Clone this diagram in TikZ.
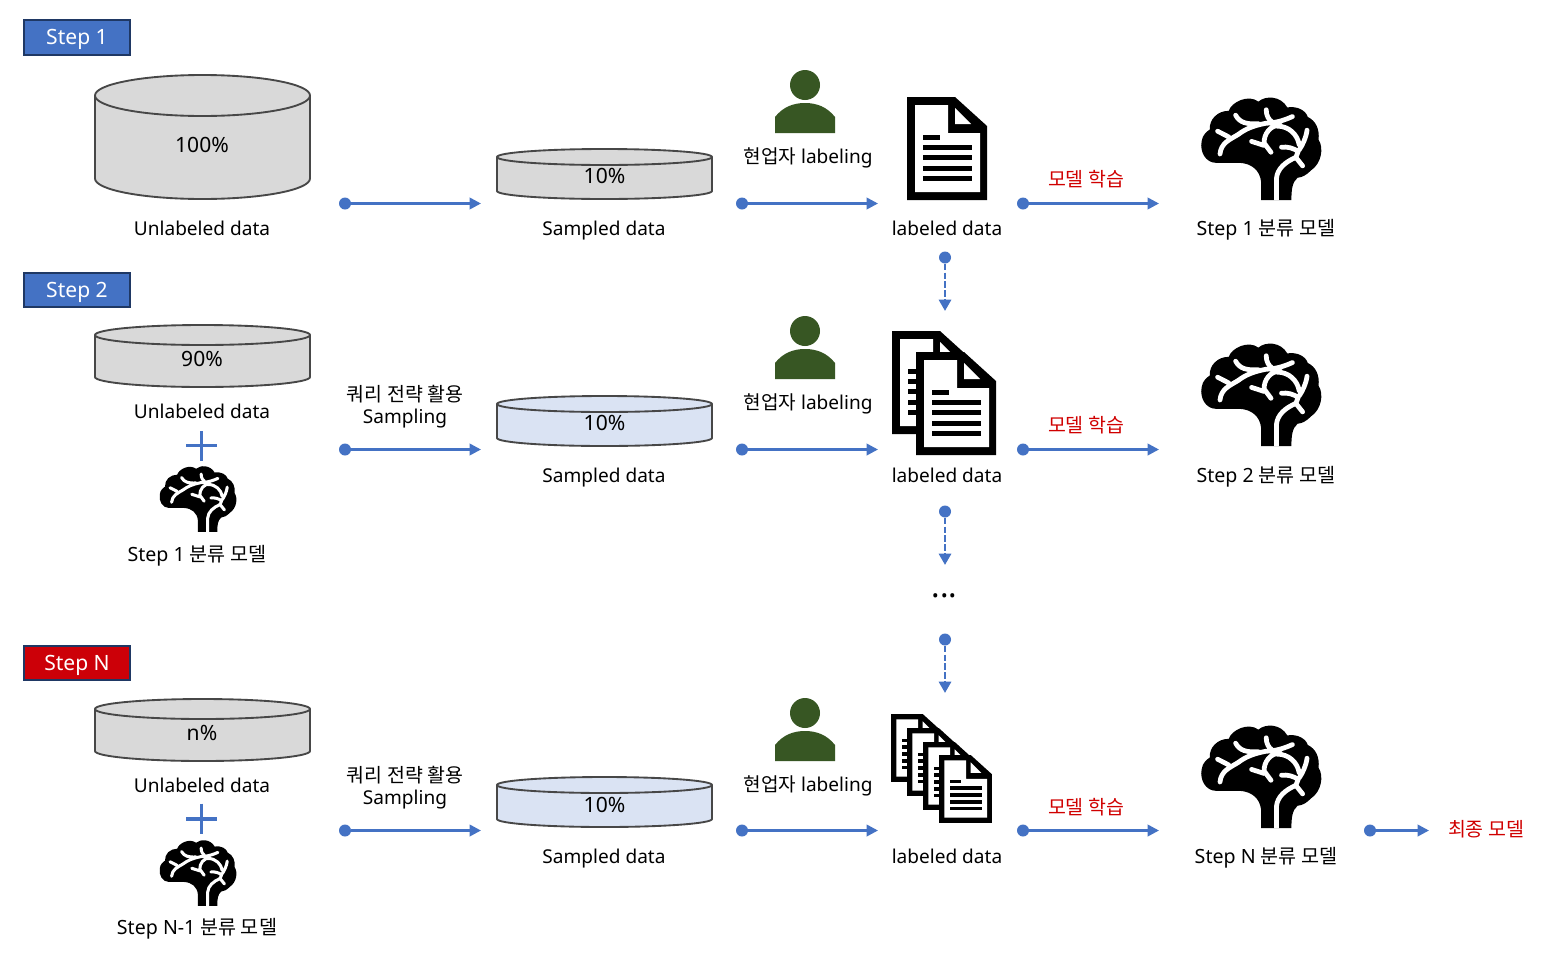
\documentclass[tikz,border=0pt]{standalone}
\usepackage{fontspec}
\setmainfont{Noto Sans}
\newfontfamily\kr{Noto Sans CJK KR}
\usetikzlibrary{arrows.meta}
\definecolor{flowblue}{HTML}{4472C4}
\definecolor{navyb}{HTML}{1F3864}
\definecolor{persong}{HTML}{375623}
\definecolor{redc}{HTML}{CC0008}
\definecolor{redt}{HTML}{D00000}
\definecolor{cylgrey}{HTML}{D9D9D9}
\definecolor{cylblue}{HTML}{DAE3F3}
\newcommand\lblfont{\fontsize{14.3}{17}\selectfont}
\newcommand\krfont{\fontsize{14.6}{17}\selectfont\kr}
\tikzset{
  x=0.75pt,y=-0.75pt,
  lbl/.style={font=\lblfont,text=black,inner sep=0pt,anchor=center,text height=10.5pt,text depth=0pt},
  modell/.style={lbl,font=\fontsize{14.7}{17}\selectfont},
  pct/.style={lbl,font=\fontsize{15.8}{17}\selectfont},
  redlbl/.style={lbl,text=redt},
  stepbox/.style={draw=navyb,line width=1.5pt,fill=flowblue,text=white,inner sep=0pt,minimum width=80pt,minimum height=26pt,font=\fontsize{15.8}{17}\selectfont,text height=10.8pt,text depth=0pt},
  stepred/.style={stepbox,fill=redc},
  cyl/.style={draw=black!72,line width=1.4pt,fill=#1},
  dotn/.style={circle,fill=flowblue,draw=none,inner sep=0pt,minimum size=9pt},
  flow/.style={draw=flowblue,line width=1.9pt,-{Triangle[length=8.5pt,width=8.5pt]}},
  flowd/.style={draw=flowblue,line width=2.2pt,dash pattern=on 5pt off 1.6pt,-{Triangle[length=8.5pt,width=9pt]}},
  plusm/.style={draw=flowblue,line width=2.6pt},
}
\newcommand\cylshape[6]{%
  \path[cyl=#6] (#1,#3+#5) arc[start angle=180,end angle=360,x radius={(#2-#1)/2},y radius=#5]
     -- (#2,#4-#5) arc[start angle=0,end angle=180,x radius={(#2-#1)/2},y radius=#5] -- cycle;
  \draw[draw=black!72,line width=1.4pt] (#1,#3+#5) arc[start angle=180,end angle=0,x radius={(#2-#1)/2},y radius=#5];
}
\newcommand\brainicon[3]{%
 \begin{scope}[shift={(#1,#2)},scale=#3]
  \fill[black] (243,358) -- (243,305) .. controls (240,270) and (215,250) .. (180,248)
    -- (110,248) .. controls (80,248) and (62,215) .. (68,185)
    .. controls (70,165) and (85,155) .. (92,150)
    .. controls (90,120) and (115,95) .. (148,95)
    .. controls (155,70) and (205,45) .. (235,68)
    .. controls (255,50) and (300,50) .. (320,85)
    .. controls (350,80) and (375,95) .. (380,113)
    .. controls (405,125) and (415,150) .. (412,180)
    .. controls (428,205) and (420,250) .. (390,270)
    .. controls (375,285) and (365,290) .. (350,292)
    .. controls (335,305) and (332,325) .. (332,358) -- cycle;
  \draw[white,line width=#3*10.5pt,line cap=round,line join=round,fill=none]
    (122,222) .. controls (125,190) and (150,180) .. (175,165) .. controls (195,150) and (215,140) .. (255,132)
    .. controls (275,130) and (295,130) .. (335,112)
    (115,155) -- (148,172)
    (168,108) .. controls (180,130) and (200,135) .. (235,133)
    (258,92) .. controls (258,110) and (265,120) .. (275,128)
    (300,138) .. controls (270,135) and (250,165) .. (252,190) -- (272,217)
    (215,185) -- (252,197)
    (290,140) .. controls (325,140) and (350,165) .. (355,195)
    (378,152) .. controls (375,175) and (365,195) .. (355,210)
    (303,202) .. controls (320,200) and (340,205) .. (352,215) -- (345,232) -- (365,257);
  \draw[white,line width=#3*10.5pt,line join=round,fill=none]
    (288,358) -- (288,295) .. controls (290,265) and (315,245) .. (345,232);
 \end{scope}}
\newcommand\docicon[3]{%
 \begin{scope}[shift={(#1,#2)},scale=#3]
  \fill[black] (0,0) -- (48,0) -- (80,29) -- (80,103) -- (0,103) -- cycle;
  \fill[white] (8,8) -- (41,8) -- (41,36) -- (73,36) -- (73,95) -- (8,95) -- cycle;
  \fill[white] (48,11) -- (48,27) -- (64,27) -- cycle;
  \fill[black] (16,37.5) rectangle (33,42.5);
  \fill[black] (16,47.5) rectangle (65,52.5);
  \fill[black] (16,58) rectangle (65,63);
  \fill[black] (16,68.5) rectangle (65,73.5);
  \fill[black] (16,79) rectangle (65,84);
 \end{scope}}
\newcommand\personicon[2]{%
 \begin{scope}[shift={(#1,#2)}]
  \fill[persong] (0,0) circle[radius=15];
  \fill[persong] (-30,48) -- (-30,32) .. controls (-22,22) and (-12,18) .. (0,18) .. controls (12,18) and (22,22) .. (30,32) -- (30,48) -- cycle;
 \end{scope}}
\newcommand\hbflow[4]{%
  \node[dotn] (#1s) at (#2,#4) {};
  \coordinate (#1e) at (#3,#4);
  \draw[flow] (#1s) -- (#1e);}
\newcommand\vbflow[4]{%
  \node[dotn] (#1s) at (#2,#3) {};
  \coordinate (#1e) at (#2,#4);
  \draw[flowd] (#1s) -- (#1e);}
\begin{document}
\begin{tikzpicture}
\useasboundingbox (0,0) rectangle (1541,957);
\fill[white] (0,0) rectangle (1541,957);

\node[stepbox] (s1) at (77,37.5) {Step 1};
\node[stepbox] (s2) at (77,290) {Step 2};
\node[stepred] (sn) at (77,663) {Step N};

% Row 1
\cylshape{95}{310}{75}{199}{20.5}{cylgrey}
\node[pct] (p100) at (202,145) {100\%};
\node[lbl] (u1) at (202,228) {Unlabeled data};
\hbflow{a1}{345}{481}{203.5}
\cylshape{497}{712}{149}{199}{8}{cylgrey}
\node[pct] (p10a) at (604.5,176) {10\%};
\node[lbl] (sd1) at (604,228) {Sampled data};
\personicon{805}{85}
\node[lbl] (w1) at (808,156) {{\kr 현업자} labeling};
\hbflow{b1}{742}{878}{203.5}
\docicon{907}{97}{1}
\node[lbl] (ld1) at (947,228) {labeled data};
\hbflow{c1}{1023}{1159}{203.5}
\node[redlbl,font=\krfont] (m1) at (1086,179) {모델 학습};
\brainicon{1178.5}{78.5}{0.34}
\node[modell] (st1) at (1266,228) {Step 1 {\kr 분류 모델}};

\vbflow{d1}{945}{257.5}{311}

% Row 2
\cylshape{95}{310}{325}{387}{10}{cylgrey}
\node[pct] (p90) at (202,359) {90\%};
\node[lbl] (u2) at (202,411) {Unlabeled data};
\draw[plusm] (186,445.5) -- (217,445.5) (201.5,431) -- (201.5,461);
\brainicon{145}{454}{0.2176}
\node[modell] (bm1) at (197,554) {Step 1 {\kr 분류 모델}};
\node[lbl,font=\krfont] (q2) at (405,394) {쿼리 전략 활용};
\node[lbl] (sp2) at (405,416.5) {Sampling};
\hbflow{a2}{345}{481}{449.5}
\cylshape{497}{712}{396}{446}{8}{cylblue}
\node[pct] (p10b) at (604.5,423) {10\%};
\node[lbl] (sd2) at (604,475) {Sampled data};
\personicon{805}{331}
\node[lbl] (w2) at (808,402) {{\kr 현업자} labeling};
\hbflow{b2}{742}{878}{449.5}
\docicon{892}{331}{1}
\docicon{916}{352}{1}
\node[lbl] (ld2) at (947,475) {labeled data};
\hbflow{c2}{1023}{1159}{449.5}
\node[redlbl,font=\krfont] (m2) at (1086,425) {모델 학습};
\brainicon{1178.5}{324.5}{0.34}
\node[modell] (st2) at (1266,475) {Step 2 {\kr 분류 모델}};

\vbflow{d2}{945}{511.5}{565}
\node[lbl,font=\fontsize{24}{26}\selectfont\bfseries] (dots) at (944.5,590.5) {...};
\vbflow{d3}{945}{639.5}{693}

% Row N
\cylshape{95}{310}{699}{761}{10}{cylgrey}
\node[pct] (pn) at (202,733) {n\%};
\node[lbl] (u3) at (202,785) {Unlabeled data};
\draw[plusm] (186,819) -- (217,819) (201.5,803.5) -- (201.5,834);
\brainicon{145}{828}{0.2176}
\node[modell] (bm2) at (197,927) {Step N-1 {\kr 분류 모델}};
\node[lbl,font=\krfont] (q3) at (405,775) {쿼리 전략 활용};
\node[lbl] (sp3) at (405,797.5) {Sampling};
\hbflow{a3}{345}{481}{830.5}
\cylshape{497}{712}{777}{827}{8}{cylblue}
\node[pct] (p10c) at (604.5,805) {10\%};
\node[lbl] (sd3) at (604,856) {Sampled data};
\personicon{805}{713}
\node[lbl] (w3) at (808,784) {{\kr 현업자} labeling};
\hbflow{b3}{742}{878}{830.5}
\docicon{891}{714}{0.66}
\docicon{907}{728}{0.66}
\docicon{923}{742}{0.66}
\docicon{939}{755}{0.66}
\node[lbl] (ld3) at (947,856) {labeled data};
\hbflow{c3}{1023}{1159}{830.5}
\node[redlbl,font=\krfont] (m3) at (1086,807) {모델 학습};
\brainicon{1178.5}{706.5}{0.34}
\node[modell] (st3) at (1266,856) {Step N {\kr 분류 모델}};
\hbflow{e3}{1370}{1429}{830.5}
\node[redlbl,font=\krfont] (fin) at (1486,829) {최종 모델};
\end{tikzpicture}
\end{document}
